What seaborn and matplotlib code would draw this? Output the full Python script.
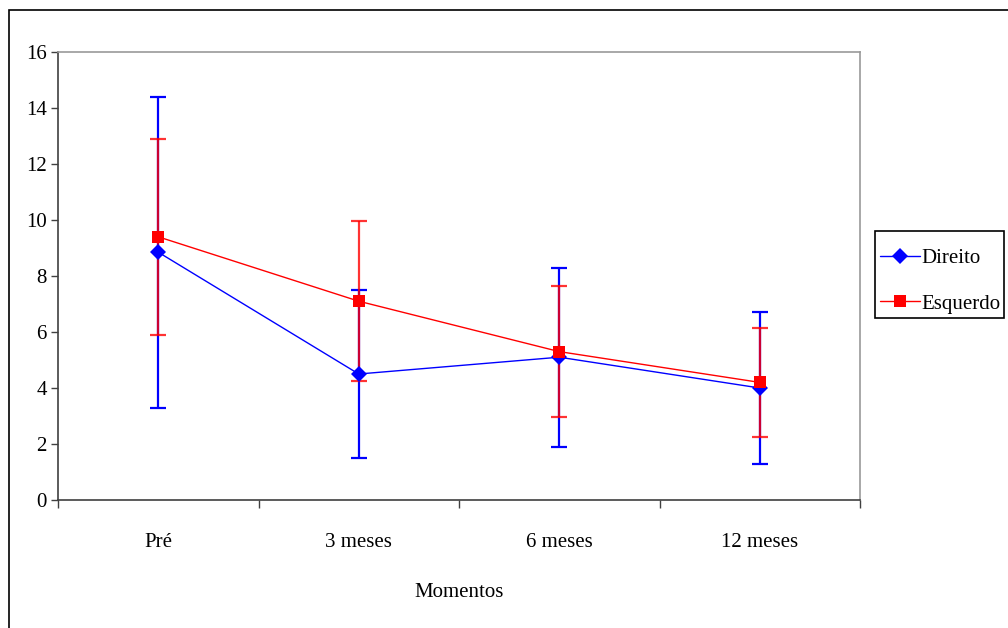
import numpy as np
import pandas as pd
import matplotlib
matplotlib.use("Agg")
import matplotlib.pyplot as plt
import seaborn as sns
from matplotlib.patches import Rectangle

# Data
momentos = ["Pré", "3 meses", "6 meses", "12 meses"]
direito_media = [8.85, 4.5, 5.1, 4.0]
direito_dp = [5.55, 3.0, 3.2, 2.7]
esquerdo_media = [9.4, 7.1, 5.3, 4.2]
esquerdo_dp = [3.5, 2.85, 2.35, 1.95]

sns.set_theme(style="white")
plt.rcParams["font.family"] = ["Liberation Serif", "DejaVu Serif"]
plt.rcParams["text.color"] = "black"
plt.rcParams["axes.labelcolor"] = "black"
plt.rcParams["xtick.color"] = "black"
plt.rcParams["ytick.color"] = "black"

pos = np.arange(len(momentos))
df = pd.DataFrame({
    "pos": np.concatenate([pos, pos]),
    "valor": direito_media + esquerdo_media,
    "lado": ["Direito"] * len(pos) + ["Esquerdo"] * len(pos),
})

fig = plt.figure(figsize=(10.08, 6.28), dpi=100)
ax = fig.add_axes([58 / 1008, 128 / 628, 802 / 1008, 448 / 628])

blue = "#0000FF"
red = "#FF0000"

# Standard deviation whiskers
ax.errorbar(pos, direito_media, yerr=direito_dp, fmt="none", ecolor=blue,
            elinewidth=1.6, capsize=6, capthick=1.6, zorder=2)
ax.errorbar(pos, esquerdo_media, yerr=esquerdo_dp, fmt="none", ecolor=red,
            elinewidth=1.6, capsize=6, capthick=1.6, alpha=0.8, zorder=3)

sns.lineplot(data=df, x="pos", y="valor", hue="lado", style="lado",
             palette={"Direito": blue, "Esquerdo": red},
             markers={"Direito": "D", "Esquerdo": "s"}, dashes=False,
             markersize=8, linewidth=1, markeredgewidth=0, ax=ax, zorder=4)

ax.set_xlim(-0.5, len(momentos) - 0.5)
ax.set_ylim(0, 16)
ax.set_yticks(np.arange(0, 17, 2))
ax.set_xticks(pos)
ax.set_xticklabels(momentos)
ax.set_xticks(np.arange(-0.5, len(momentos), 1), minor=True)
ax.tick_params(axis="x", which="major", bottom=True, length=0, pad=24,
               labelsize=15, labelcolor="black")
ax.tick_params(axis="x", which="minor", bottom=True, length=6, width=1,
               color="#404040", direction="out")
ax.tick_params(axis="y", left=True, length=5, width=1, color="#404040",
               direction="out", pad=3, labelsize=15, labelcolor="black")

ax.set_xlabel("Momentos", fontsize=15, labelpad=22, color="black")
ax.set_ylabel("")

for side in ["left", "bottom"]:
    ax.spines[side].set_color("#404040")
    ax.spines[side].set_linewidth(1.2)
for side in ["top", "right"]:
    ax.spines[side].set_color("#999999")
    ax.spines[side].set_linewidth(1.2)

# Legend entries without frame; the box is drawn separately
handles, labels = ax.get_legend_handles_labels()
leg = ax.legend(handles, labels, loc="center left",
                bbox_to_anchor=(880 / 1008, 1 - 281 / 628),
                bbox_transform=fig.transFigure, frameon=False,
                fontsize=15, handlelength=1.9, handletextpad=0.08, borderpad=0,
                borderaxespad=0, labelspacing=1.25, labelcolor="black")
fig.patches.append(Rectangle((875 / 1008, 1 - 318 / 628), 129 / 1008, 87 / 628,
                             transform=fig.transFigure, fill=False,
                             edgecolor="black", linewidth=1.2))

# Outer chart frame
fig.patches.append(Rectangle((9 / 1008, -0.05), 1.2, 1 - 10 / 628 + 0.05,
                             transform=fig.transFigure, fill=False,
                             edgecolor="black", linewidth=1.2))

fig.savefig("out.png", dpi=100)
